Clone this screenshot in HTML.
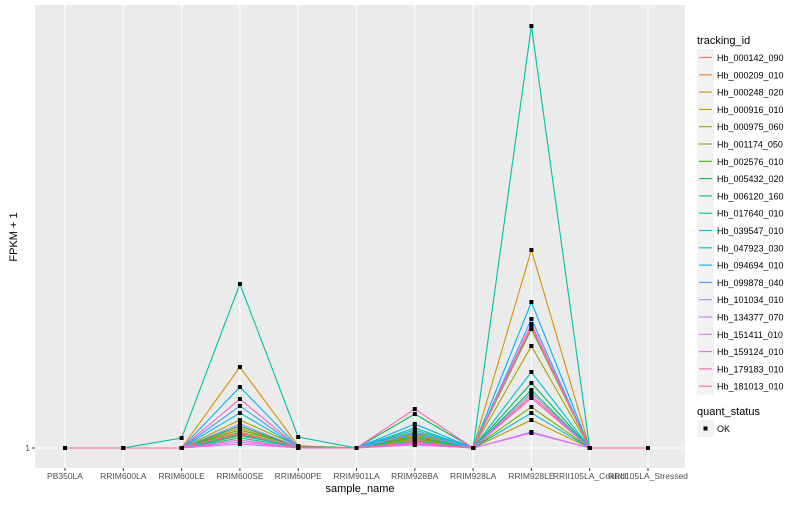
<!DOCTYPE html>
<html><head><meta charset="utf-8"><style>
body{margin:0;background:#fff;font-family:"Liberation Sans",sans-serif}
svg text{font-family:"Liberation Sans",sans-serif}
</style></head><body>
<svg id="c" width="800" height="500" xmlns="http://www.w3.org/2000/svg">
<rect x="0" y="0" width="800" height="500" fill="#fff"/>
<rect x="35" y="5" width="650" height="463" fill="#EBEBEB"/>
<g id="grid"></g><g id="lines"></g><g id="pts"></g><g id="axes"></g><g id="legend"></g>
<text x="360" y="492" text-anchor="middle" font-size="11" fill="#000">sample_name</text>
<text transform="translate(17,237) rotate(-90)" text-anchor="middle" font-size="11" fill="#000">FPKM + 1</text>
<text x="697" y="44" font-size="11" fill="#000">tracking_id</text>
<text x="697" y="415" font-size="11" fill="#000">quant_status</text>
</svg>
<script>
const categories=["PB350LA","RRIM600LA","RRIM600LE","RRIM600SE","RRIM600PE","RRIM901LA","RRIM928BA","RRIM928LA","RRIM928LE","RRII105LA_Control","RRII105LA_Stressed"];
const seriesNames=["Hb_000142_090","Hb_000209_010","Hb_000248_020","Hb_000916_010","Hb_000975_060","Hb_001174_050","Hb_002576_010","Hb_005432_020","Hb_006120_160","Hb_017640_010","Hb_039547_010","Hb_047923_030","Hb_094694_010","Hb_099878_040","Hb_101034_010","Hb_134377_070","Hb_151411_010","Hb_159124_010","Hb_179183_010","Hb_181013_010"];
const colors=["#F8766D","#EA8331","#D89000","#C09B00","#A3A500","#7CAE00","#39B600","#00BB4E","#00BF7D","#00C1A3","#00BFC4","#00BAE0","#00B0F6","#35A2FF","#9590FF","#C77CFF","#E76BF3","#FA62DB","#FF62BC","#FF6C91"];
const s00=[1,1,1,4.5,1.25,1,3,1,14,1,1];
const s01=[1,1,1,6,1.25,1,4,1,14.75,1,1];
const s02=[1,1,1,21.25,1.5,1,3.5,1,50.5,1,1];
const s03=[1,1,1,5,1.25,1,2.5,1,8,1,1];
const s04=[1,1,1,8,1.5,1,4.25,1,26.5,1,1];
const s05=[1,1,1,4,1.5,1,3.25,1,11.25,1,1];
const s06=[1,1,1,5.5,1.5,1,5,1,30.75,1,1];
const s07=[1,1,1,6.5,1.25,1,9.5,1,17.25,1,1];
const s08=[1,1,1,3.5,1.25,1,3.75,1,15.5,1,1];
const s09=[1,1,3.5,42,3.75,1,6,1,106.5,1,1];
const s10=[1,1,1,4.25,1.25,1,2.75,1,9.75,1,1];
const s11=[1,1,1,9.75,1.25,1,5.5,1,20,1,1];
const s12=[1,1,1,16.25,1.25,1,7,1,37.5,1,1];
const s13=[1,1,1,11.5,1.25,1,4.5,1,33.25,1,1];
const s14=[1,1,1,7,1.25,1,4.75,1,14.75,1,1];
const s15=[1,1,1,2.5,1,1,2,1,5,1,1];
const s16=[1,1,1,2,1,1,1.75,1,4.75,1,1];
const s17=[1,1,1,3,1,1,2.25,1,13.5,1,1];
const s18=[1,1,1,13.25,1.25,1,10.75,1,32,1,1];
const s19=[1,1,1,4.75,1.25,1,2.5,1,31.25,1,1];
const seriesValues=[s00,s01,s02,s03,s04,s05,s06,s07,s08,s09,s10,s11,s12,s13,s14,s15,s16,s17,s18,s19];
const yTicks=[1];
const NS="http://www.w3.org/2000/svg";
const xS=i=>65+i*58.3;
const yS=v=>448-(v-1)*4;
function mk(t,a,p){const e=document.createElementNS(NS,t);for(const k in a)e.setAttribute(k,a[k]);p.appendChild(e);return e;}
const grid=document.getElementById('grid'),lines=document.getElementById('lines'),pts=document.getElementById('pts'),axes=document.getElementById('axes'),leg=document.getElementById('legend');
categories.forEach((c,i)=>{
 const g=mk('line',{x1:xS(i),x2:xS(i),y1:5,y2:468,stroke:'#fff','stroke-width':1.1},grid);
 
 
 const tk=mk('line',{x1:xS(i),x2:xS(i),y1:468,y2:471,stroke:'#333'},axes);
 
 
 const t=mk('text',{x:xS(i),y:479,'text-anchor':'middle','font-size':8.5,fill:'#4D4D4D'},axes);
 t.textContent=c;
 
 
});
yTicks.forEach(v=>{
 const g=mk('line',{x1:35,x2:685,y1:yS(v),y2:yS(v),stroke:'#fff','stroke-width':1.1},grid);
 
 
 const tk=mk('line',{x1:32,x2:35,y1:yS(v),y2:yS(v),stroke:'#333'},axes);
 
 
 const t=mk('text',{x:30,y:yS(v)+3,'text-anchor':'end','font-size':8.5,fill:'#4D4D4D'},axes);
 t.textContent=String(v);
 
 
});
seriesValues.forEach((vals,s)=>{
 const p=mk('polyline',{points:vals.map((v,i)=>xS(i)+','+yS(v)).join(' '),fill:'none',stroke:colors[s],'stroke-width':1.1},lines);
 
 
 vals.forEach((v,i)=>{
  const r=mk('rect',{x:xS(i)-2,y:yS(v)-2,width:4,height:4,fill:'#000'},pts);
  
  
 });
});
seriesNames.forEach((n,s)=>{
 const y=49+s*17.3;
 const b=mk('rect',{x:697,y:y,width:17,height:17,fill:'#F2F2F2'},leg);
 
 
 const l=mk('line',{x1:699,x2:712,y1:y+8.5,y2:y+8.5,stroke:colors[s],'stroke-width':1.1},leg);
 
 
 const t=mk('text',{x:717,y:y+12,'font-size':9,fill:'#000'},leg);
 t.textContent=n;
 
 
});
const ok=mk('rect',{x:697,y:420,width:17,height:17,fill:'#F2F2F2'},leg);


const okp=mk('rect',{x:703.5,y:426.5,width:4,height:4,fill:'#000'},leg);


const okt=mk('text',{x:717,y:432,'font-size':9,fill:'#000'},leg);
okt.textContent='OK';


</script>
</body></html>
